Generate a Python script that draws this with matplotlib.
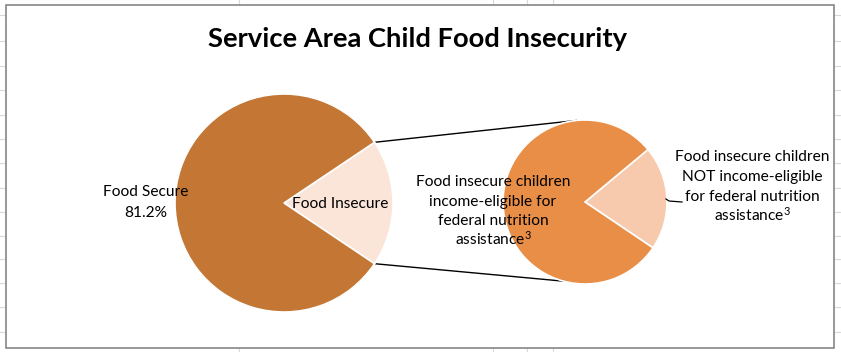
import numpy as np
import matplotlib.pyplot as plt
from matplotlib.patches import Rectangle

plt.rcParams['font.family'] = ['Lato', 'DejaVu Sans']
plt.rcParams['mathtext.fontset'] = 'custom'
plt.rcParams['mathtext.rm'] = 'Lato'
plt.rcParams['mathtext.it'] = 'Lato:italic'
plt.rcParams['mathtext.bf'] = 'Lato:bold'

# data
title = "Service Area Child Food Insecurity"
main_labels = ["Food Secure", "Food Insecure"]
main_values = [81.2, 18.8]
sub_labels = [["Food insecure children", "income-eligible for", "federal nutrition",
               "assistance$^\\mathrm{3}$"],
              ["Food insecure children", "NOT income-eligible", "for federal nutrition",
               "assistance$^\\mathrm{3}$"]]
sub_values = [79.5, 20.5]

main_colors = ["#C47634", "#FBE5D9"]
sub_colors = ["#E98E47", "#F8CAAD"]

W, H = 841, 352
fig = plt.figure(figsize=(W / 100, H / 100), dpi=100)
ax = fig.add_axes([0, 0, 1, 1])

def yy(y):
    # image pixel row -> data y (up)
    return H - y

fs = 11.2

def lines(x, y0, step, txts):
    # one text per line, baselines step px apart
    for k, t in enumerate(txts):
        ax.text(x, yy(y0 + k * step), t, ha="center", va="baseline",
                fontsize=fs, color="black")

# left pie, small slice centred on 0 deg
c1 = (284, yy(203))
r1 = 109
a1 = main_values[1] / 100 * 360
ax.pie(main_values[::-1], colors=main_colors[::-1], center=c1, radius=r1,
       startangle=-a1 / 2, counterclock=True, frame=True,
       wedgeprops=dict(edgecolor="white", linewidth=1.2))

# right pie
c2 = (585, yy(202))
r2 = 82
ax.pie(sub_values[::-1], colors=sub_colors[::-1], center=c2, radius=r2,
       startangle=-34, counterclock=True, frame=True,
       wedgeprops=dict(edgecolor="white", linewidth=1.2))

# connector lines
for ang1, ang2 in [(a1 / 2, 96), (-a1 / 2, -105)]:
    p1 = (c1[0] + r1 * np.cos(np.radians(ang1)), c1[1] + r1 * np.sin(np.radians(ang1)))
    p2 = (c2[0] + r2 * np.cos(np.radians(ang2)), c2[1] + r2 * np.sin(np.radians(ang2)))
    ax.plot([p1[0], p2[0]], [p1[1], p2[1]], color="black", lw=1, zorder=0)

# labels
lines(146, 196, 21, [main_labels[0], "%.1f%%" % main_values[0]])
lines(340, 208, 20, [main_labels[1]])
lines(493, 186, 19.7, sub_labels[0])
lines(752, 161, 20, sub_labels[1])
ax.plot([666, 669, 682], [yy(199), yy(201), yy(202)], color="black", lw=0.9)

ax.text(418, yy(39), title, ha="center", va="center", fontsize=19.7, fontweight="bold")

# worksheet gridlines behind the chart and chart border
for gy in [15, 41, 66, 90, 115, 139, 163, 188, 212, 236, 259, 283, 307, 332]:
    ax.plot([0, 6], [yy(gy), yy(gy)], color="#D9D9D9", lw=0.8, zorder=-2)
    ax.plot([834, W], [yy(gy), yy(gy)], color="#D9D9D9", lw=0.8, zorder=-2)
for gx in [239, 493, 527, 553]:
    ax.plot([gx, gx], [yy(0), yy(5)], color="#D9D9D9", lw=0.8, zorder=-2)
    ax.plot([gx, gx], [yy(348), yy(H)], color="#D9D9D9", lw=0.8, zorder=-2)
ax.add_patch(Rectangle((6, yy(348)), 828, 343, facecolor="white",
                       edgecolor="#868686", lw=1.2, zorder=-1))

ax.set_xlim(0, W)
ax.set_ylim(0, H)
ax.set_aspect("equal")
ax.axis("off")

fig.savefig("out.png", dpi=100)
